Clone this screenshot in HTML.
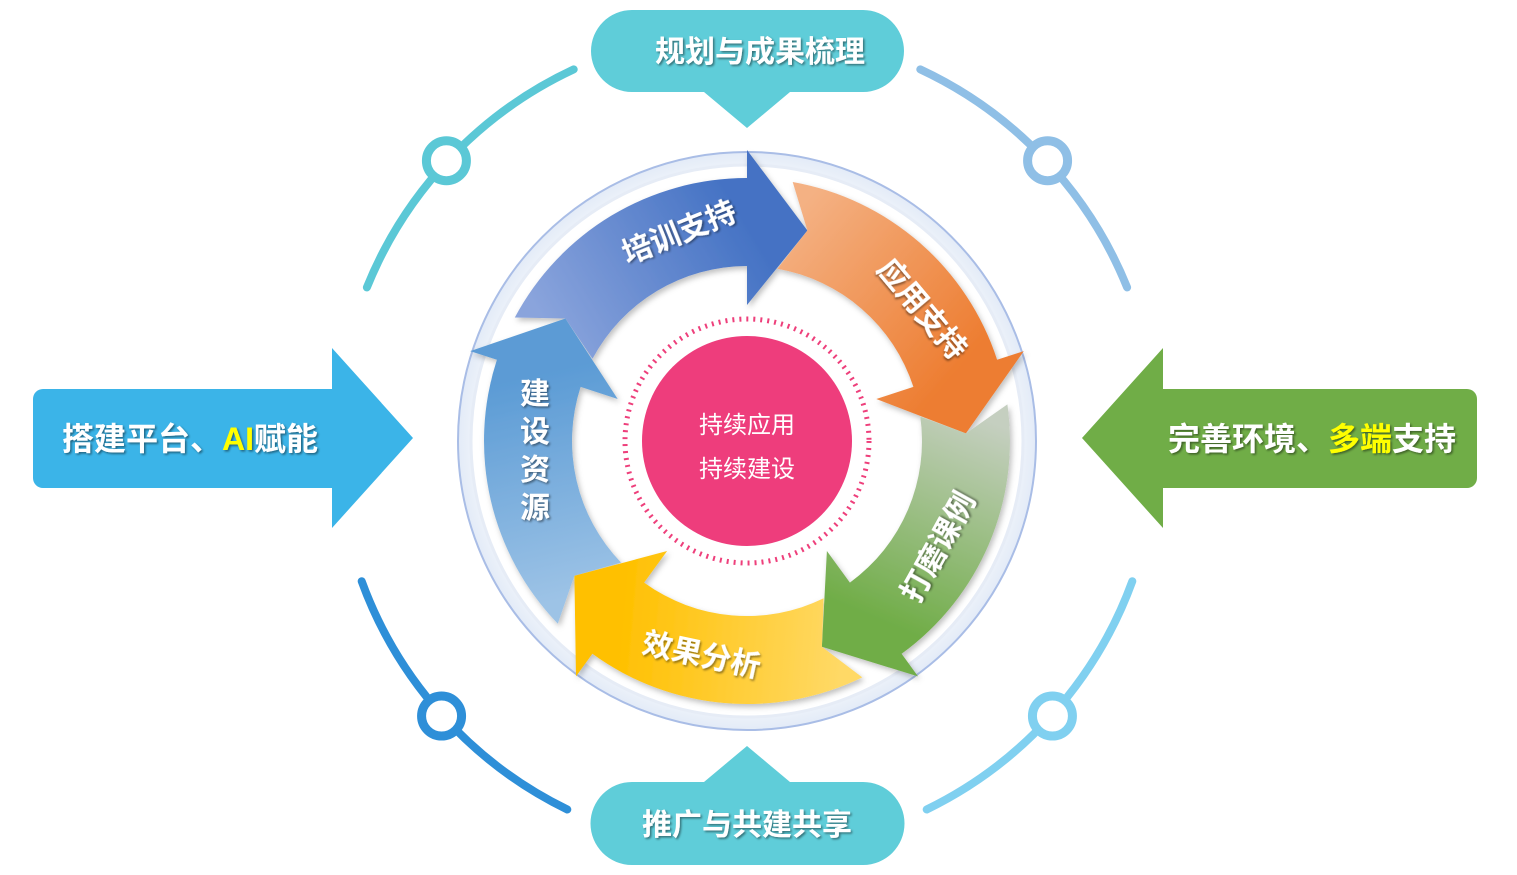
<!DOCTYPE html>
<html><head><meta charset="utf-8">
<style>
html,body{margin:0;padding:0;background:#fff;}
body{width:1517px;height:875px;overflow:hidden;position:relative;font-family:"Liberation Sans","Noto Sans CJK SC",sans-serif;}
svg{position:absolute;left:0;top:0;}
.lbl{font-family:"Liberation Sans","Noto Sans CJK SC",sans-serif;font-weight:bold;fill:#fff;}
</style></head><body>
<svg id="s" width="1517" height="875" viewBox="0 0 1517 875" xmlns="http://www.w3.org/2000/svg">
<defs>
<filter id="sh" x="-20%" y="-20%" width="140%" height="140%"><feDropShadow dx="2" dy="3" stdDeviation="3" flood-color="#000" flood-opacity="0.25"/></filter>
<filter id="ts" x="-10%" y="-10%" width="120%" height="130%"><feDropShadow dx="1.5" dy="1.5" stdDeviation="1" flood-color="#000" flood-opacity="0.45"/></filter>
<radialGradient id="disc" cx="0.5" cy="0.5" r="0.5">
<stop offset="0.85" stop-color="#ffffff"/><stop offset="1" stop-color="#e3ebf7"/></radialGradient>
</defs>
<g id="arcs" fill="none" stroke-width="8" stroke-linecap="round"></g>
<circle cx="747" cy="441" r="289" fill="url(#disc)" stroke="#a9bde6" stroke-width="2"/>
<circle cx="747" cy="441" r="276" fill="#fff" stroke="#e6ecf6" stroke-width="3"/>
<g id="arrows" filter="url(#sh)"></g>
<circle cx="747" cy="441" r="122" fill="none" stroke="#ee3f7b" stroke-width="5" stroke-dasharray="2 5"/>
<circle cx="747" cy="441" r="105" fill="#ee3d7c"/>
<text x="747" y="433" text-anchor="middle" font-size="24" fill="#fff" style="font-family:'Liberation Sans','Noto Sans CJK SC',sans-serif">持续应用</text>
<text x="747" y="477" text-anchor="middle" font-size="24" fill="#fff" style="font-family:'Liberation Sans','Noto Sans CJK SC',sans-serif">持续建设</text>
<g id="labels"></g>
<path d="M632,10 H863 A41,41 0 0 1 863,92 H790 L747,128 L704,92 H632 A41,41 0 0 1 632,10 Z" fill="#5fcdd9"/>
<text x="760" y="62" text-anchor="middle" font-size="30" class="lbl" filter="url(#ts)">规划与成果梳理</text>
<path d="M632,782 H704 L747,746 L790,782 H863 A41,41 0 0 1 863,865 H632 A41,41 0 0 1 632,782 Z" fill="#5fcdd9"/>
<text x="747" y="835" text-anchor="middle" font-size="30" class="lbl" filter="url(#ts)">推广与共建共享</text>
<path d="M43,389 H332 V348 L413,438 L332,528 V488 H43 A10,10 0 0 1 33,478 V399 A10,10 0 0 1 43,389 Z" fill="#3bb4e8"/>
<text x="62" y="450" font-size="32" class="lbl" filter="url(#ts)">搭建平台、<tspan fill="#ffff00">AI</tspan>赋能</text>
<path d="M1467,389 H1163 V348 L1082,438 L1163,528 V488 H1467 A10,10 0 0 0 1477,478 V399 A10,10 0 0 0 1467,389 Z" fill="#70ad47"/>
<text x="1168" y="450" font-size="32" class="lbl" filter="url(#ts)">完善环境、<tspan fill="#ffff00">多端</tspan>支持</text>
</svg>
<script>
(function(){
var NS="http://www.w3.org/2000/svg",cx=747,cy=441;
function P(r,a){a=a*Math.PI/180;return [cx+r*Math.cos(a),cy+r*Math.sin(a)];}
function f(p){return p[0].toFixed(1)+","+p[1].toFixed(1);}
function el(t,at,par){var e=document.createElementNS(NS,t);for(var k in at)e.setAttribute(k,at[k]);par.appendChild(e);return e;}
var defs=document.querySelector("defs");
var arcs=document.getElementById("arcs");
var A=[[-158,-115,"#5bc8d6",-137],[-65,-22,"#8fbfe6",-43],[116,160,"#2e8fd8",138],[20,64,"#80d0f0",42]];
A.forEach(function(a){
var p1=P(410,a[0]),p2=P(410,a[1]);
el("path",{d:"M"+f(p1)+" A410,410 0 0 1 "+f(p2),stroke:a[2]},arcs);
var c=P(411,a[3]);
el("circle",{cx:c[0],cy:c[1],r:20,fill:"#fff",stroke:a[2],"stroke-width":9},arcs);
});
var g=document.getElementById("arrows");
var cols=[[-90,"#8aa4dc","#4472c4"],[-18,"#f4b183","#ed7d31"],[54,"#c5cfc0","#70ad47"],[126,"#ffd966","#ffc000"],[198,"#9dc3e6","#5b9bd5"]];
cols.forEach(function(c,i){
var h=c[0],s=h-62,t=h+16;
var id="ag"+i,a=P(219,s),b=P(219,h);
var lg=el("linearGradient",{id:id,gradientUnits:"userSpaceOnUse",x1:a[0],y1:a[1],x2:b[0],y2:b[1]},defs);
el("stop",{offset:"0","stop-color":c[1]},lg);el("stop",{offset:"1","stop-color":c[2]},lg);
var d="M"+f(P(263,s))+" A263,263 0 0 1 "+f(P(263,h))+" L"+f(P(291,h))+" L"+f(P(219,t))+" L"+f(P(136,h))+" L"+f(P(175,h))+" A175,175 0 0 0 "+f(P(175,s))+" L"+f(P(219,s+6))+" Z";
el("path",{d:d,fill:"url(#"+id+")"},g);
});
var L=document.getElementById("labels");
var labs=[["培训支持",-108,-22],["应用支持",-37,50],["打磨课例",29,-61],["效果分析",102,12]];
labs.forEach(function(l){
var p=P(219,l[1]);
var t=el("text",{x:0,y:10,"text-anchor":"middle","font-size":30,"class":"lbl",filter:"url(#ts)",transform:"translate("+p[0].toFixed(1)+","+p[1].toFixed(1)+") rotate("+l[2]+")"},L);
t.textContent=l[0];
});
"建设资源".split("").forEach(function(ch,i){
var t=el("text",{x:535,y:404+i*38,"text-anchor":"middle","font-size":30,"class":"lbl",filter:"url(#ts)"},L);
t.textContent=ch;
});
})();
</script>
</body></html>
